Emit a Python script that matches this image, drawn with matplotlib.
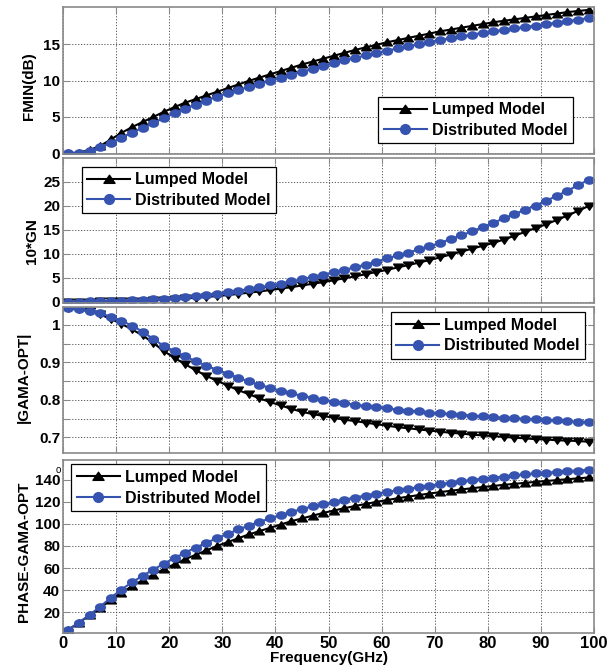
import numpy as np
import matplotlib
matplotlib.use("Agg")
import matplotlib.pyplot as plt
from matplotlib.path import Path
from matplotlib.lines import Line2D
from matplotlib.ticker import FixedLocator, FuncFormatter

OUTPUT_IMAGE = "out.png"

# Frequency sweep (GHz), one point every 2 GHz
freq = [1, 3, 5, 7, 9, 11, 13, 15, 17, 19, 21, 23, 25, 27, 29, 31, 33, 35, 37, 39,
        41, 43, 45, 47, 49, 51, 53, 55, 57, 59, 61, 63, 65, 67, 69, 71, 73, 75, 77, 79,
        81, 83, 85, 87, 89, 91, 93, 95, 97, 99]

# Minimum noise figure (dB)
fmin_lumped = [0.0, 0.1, 0.45, 1.0, 1.9, 2.8, 3.6, 4.3, 5.0, 5.7, 6.35, 6.95, 7.45, 7.95, 8.45,
               8.95, 9.45, 9.95, 10.4, 10.85, 11.3, 11.75, 12.2, 12.6, 13.0, 13.4, 13.8, 14.2,
               14.55, 14.9, 15.25, 15.55, 15.85, 16.15, 16.45, 16.75, 17.0, 17.25, 17.5, 17.75,
               18.0, 18.2, 18.4, 18.6, 18.8, 19.0, 19.2, 19.4, 19.55, 19.7]
fmin_distributed = [0.0, 0.05, 0.3, 0.8, 1.45, 2.15, 2.85, 3.5, 4.15, 4.85, 5.5, 6.1, 6.7, 7.25,
                    7.8, 8.25, 8.7, 9.1, 9.55, 10.0, 10.4, 10.8, 11.2, 11.6, 12.0, 12.4, 12.75,
                    13.1, 13.45, 13.8, 14.1, 14.4, 14.7, 15.0, 15.3, 15.55, 15.8, 16.05, 16.3,
                    16.55, 16.75, 16.95, 17.15, 17.35, 17.55, 17.75, 17.95, 18.15, 18.35, 18.6]

# Normalised noise conductance (10*GN)
gn_lumped = [0.0, 0.0, 0.01, 0.03, 0.06, 0.1, 0.15, 0.22, 0.3, 0.4, 0.5, 0.65, 0.8, 0.97, 1.15,
             1.35, 1.6, 1.85, 2.1, 2.4, 2.7, 3.0, 3.35, 3.7, 4.05, 4.45, 4.85, 5.25, 5.7, 6.15,
             6.6, 7.1, 7.6, 8.1, 8.65, 9.2, 9.8, 10.4, 11.0, 11.6, 12.2, 12.9, 13.7, 14.5, 15.3,
             16.1, 17.0, 17.9, 18.9, 19.9]
gn_distributed = [0.0, 0.0, 0.02, 0.05, 0.1, 0.17, 0.25, 0.35, 0.47, 0.6, 0.77, 0.95, 1.15, 1.4,
                  1.65, 1.95, 2.25, 2.6, 2.95, 3.35, 3.75, 4.2, 4.65, 5.1, 5.6, 6.1, 6.6, 7.15,
                  7.7, 8.3, 9.0, 9.6, 10.2, 10.85, 11.5, 12.2, 13.0, 13.8, 14.6, 15.5, 16.4,
                  17.3, 18.2, 19.1, 20.0, 21.0, 22.0, 23.1, 24.2, 25.4]

# Magnitude of optimum reflection coefficient
gama_lumped = [1.045, 1.042, 1.036, 1.028, 1.016, 1.003, 0.988, 0.972, 0.952, 0.930, 0.912,
               0.895, 0.879, 0.864, 0.851, 0.838, 0.826, 0.815, 0.804, 0.794, 0.785, 0.776,
               0.768, 0.762, 0.757, 0.752, 0.747, 0.743, 0.739, 0.735, 0.731, 0.727, 0.724,
               0.721, 0.718, 0.715, 0.712, 0.710, 0.707, 0.705, 0.703, 0.701, 0.699, 0.697,
               0.695, 0.694, 0.692, 0.691, 0.690, 0.688]
gama_distributed = [1.045, 1.043, 1.038, 1.031, 1.022, 1.011, 0.998, 0.982, 0.962, 0.944, 0.930,
                    0.916, 0.903, 0.891, 0.880, 0.870, 0.859, 0.849, 0.840, 0.832, 0.824, 0.817,
                    0.811, 0.805, 0.800, 0.795, 0.791, 0.787, 0.783, 0.780, 0.777, 0.774, 0.771,
                    0.769, 0.766, 0.764, 0.762, 0.760, 0.758, 0.756, 0.754, 0.752, 0.751, 0.749,
                    0.748, 0.746, 0.745, 0.743, 0.742, 0.741]

# Phase of optimum reflection coefficient (degrees)
phase_lumped = [4, 10.5, 17, 24, 31, 37.5, 43.5, 49, 54, 59, 63.5, 68, 72, 76, 80, 83.5, 87, 90.5,
                93.5, 96.5, 99.5, 102.5, 105, 107.5, 110, 112.2, 114.3, 116.3, 118.2, 120, 121.7,
                123.3, 124.8, 126.2, 127.6, 128.9, 130.1, 131.3, 132.4, 133.5, 134.5, 135.5,
                136.4, 137.3, 138.2, 139, 139.8, 140.6, 141.4, 142.2]
phase_distributed = [4, 10.5, 17.5, 25, 33, 40.5, 47, 53, 58.5, 64, 69, 74, 78.5, 83, 87, 91, 95,
                     98.5, 102, 105, 108, 111, 113.5, 116, 118, 120, 122, 124, 125.8, 127.5, 129,
                     130.5, 132, 133.4, 134.8, 136.2, 137.5, 138.7, 139.9, 141, 142, 143, 144,
                     144.9, 145.8, 146.5, 147.2, 147.9, 148.5, 149.1]

BLUE = "#3653b0"
FRAME = "#8a8a8a"

plt.rcParams["font.family"] = ["Liberation Sans", "DejaVu Sans"]
plt.rcParams["font.weight"] = "bold"
plt.rcParams["axes.labelweight"] = "bold"

# Slightly widened markers
t = np.linspace(0, 2 * np.pi, 40)
ELLIPSE = Path(np.column_stack([1.35 * np.cos(t), np.sin(t)]), closed=True)
TRI_UP = Path([(-1.3, -0.9), (1.3, -0.9), (0, 1.0), (-1.3, -0.9)], closed=True)
TRI_DOWN = Path([(-1.3, 0.9), (1.3, 0.9), (0, -1.0), (-1.3, 0.9)], closed=True)


def style_axes(ax, ylim, yticks, ylabels):
    ax.set_xlim(0, 100)
    ax.set_ylim(*ylim)
    ax.xaxis.set_major_locator(FixedLocator(range(0, 101, 10)))
    ax.yaxis.set_major_locator(FixedLocator(yticks))
    ax.yaxis.set_major_formatter(FuncFormatter(lambda v, i: ylabels[i] if i < len(ylabels) else ""))
    ax.grid(True, linestyle=(0, (1.5, 2)), color="#444444", linewidth=0.6)
    ax.tick_params(direction="in", top=True, right=True, length=4, color=FRAME,
                   labelsize=11, pad=2)
    for s in ax.spines.values():
        s.set_color(FRAME)
        s.set_linewidth(1.2)


def add_legend(ax, box):
    handles = [
        Line2D([], [], color="black", lw=1.5, marker=TRI_UP, markersize=8),
        Line2D([], [], color=BLUE, lw=1.5, marker="o", markersize=7),
    ]
    leg = ax.legend(handles, ["Lumped Model", "Distributed Model"], loc="center",
                    bbox_to_anchor=box, fontsize=11.5, handlelength=2.7,
                    handletextpad=0.3, borderpad=0.35, labelspacing=0.35,
                    fancybox=False, framealpha=1, edgecolor="black")
    leg.get_frame().set_linewidth(0.9)


def plot_noise_parameters():
    fig = plt.figure(figsize=(6.1, 6.72), dpi=100)
    left, width = 0.1033, 0.8705
    ax1 = fig.add_axes([left, 0.7708, width, 0.2188])
    ax2 = fig.add_axes([left, 0.5491, width, 0.2158])
    ax3 = fig.add_axes([left, 0.3259, width, 0.2173])
    ax4 = fig.add_axes([left, 0.0580, width, 0.2574])

    kw = dict(lw=1.5, markersize=7)
    ax1.plot(freq, fmin_lumped, color="black", marker=TRI_UP, **kw)
    ax1.plot(freq, fmin_distributed, color=BLUE, marker=ELLIPSE, **kw)
    style_axes(ax1, (-0.1, 20.1), [0, 5, 10, 15], ["0", "5", "10", "15"])
    ax1.set_ylabel("FMIN(dB)", fontsize=11)
    ax1.yaxis.set_label_coords(-0.064, 0.46)
    add_legend(ax1, (0.588, 0.054, 0.378, 0.354))

    ax2.plot(freq, gn_lumped, color="black", marker=TRI_DOWN, **kw)
    ax2.plot(freq, gn_distributed, color=BLUE, marker=ELLIPSE, **kw)
    style_axes(ax2, (-0.3, 29.9), [0, 5, 10, 15, 20, 25], ["0", "5", "10", "15", "20", "25"])
    ax2.set_ylabel("10*GN", fontsize=11)
    ax2.yaxis.set_label_coords(-0.058, 0.43)
    add_legend(ax2, (0.030, 0.607, 0.377, 0.345))

    ax3.plot(freq, gama_lumped, color="black", marker=TRI_DOWN, **kw)
    ax3.plot(freq, gama_distributed, color=BLUE, marker=ELLIPSE, **kw)
    style_axes(ax3, (0.658, 1.048), [0.7, 0.75, 0.8, 0.85, 0.9, 0.95, 1.0],
               ["0.7", "", "0.8", "", "0.9", "", "1"])
    ax3.set_ylabel("|GAMA-OPT|", fontsize=11)
    ax3.yaxis.set_label_coords(-0.074, 0.52)
    add_legend(ax3, (0.611, 0.630, 0.378, 0.349))

    ax4.plot(freq, phase_lumped, color="black", marker=TRI_UP, **kw)
    ax4.plot(freq, phase_distributed, color=BLUE, marker=ELLIPSE, **kw)
    style_axes(ax4, (1, 158), [20, 40, 60, 80, 100, 120, 140],
               ["20", "40", "60", "80", "100", "120", "140"])
    ax4.set_ylabel("PHASE-GAMA-OPT", fontsize=11)
    ax4.yaxis.set_label_coords(-0.074, 0.47)
    ax4.text(-0.008, 0.945, "o", transform=ax4.transAxes, fontsize=7,
             fontweight="normal", ha="center", va="center")
    add_legend(ax4, (0.010, 0.692, 0.377, 0.295))
    ax4.set_xlabel("Frequency(GHz)", fontsize=11, labelpad=0)
    ax4.tick_params(axis="x", labelsize=12)

    for ax in (ax1, ax2, ax3):
        ax.tick_params(labelbottom=False)

    for ax in (ax1, ax2, ax3, ax4):
        ax.yaxis.label.set_va("center")

    fig.savefig(OUTPUT_IMAGE, dpi=100)
    print(f"Graph saved as {OUTPUT_IMAGE}")


if __name__ == "__main__":
    plot_noise_parameters()
